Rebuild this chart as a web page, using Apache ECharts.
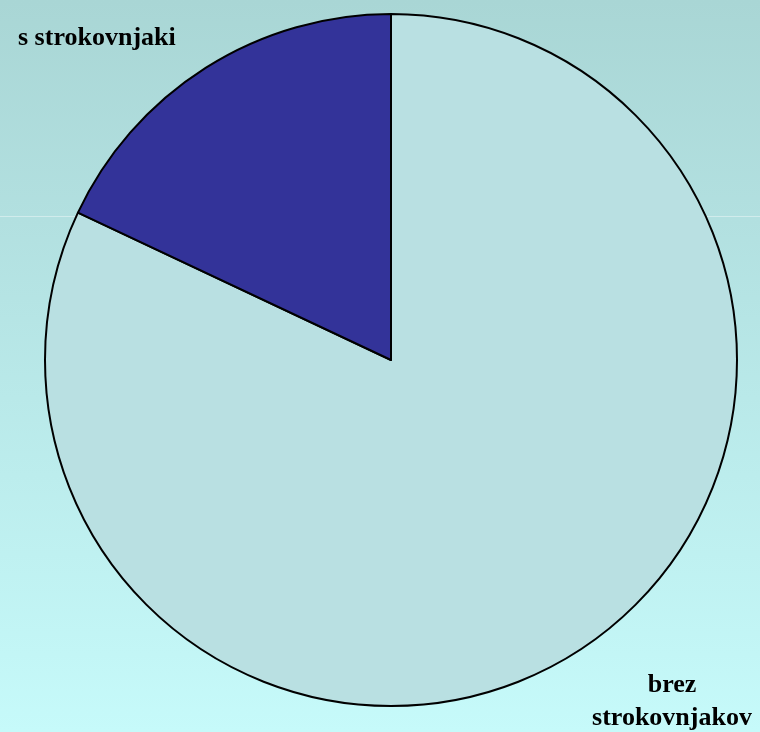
<!DOCTYPE html>
<html>
<head>
<meta charset="utf-8">
<script src="https://cdn.jsdelivr.net/npm/echarts@6/dist/echarts.min.js"></script>
<style>
  html, body { margin: 0; padding: 0; }
  #chart { width: 760px; height: 732px; }
</style>
</head>
<body>
<div id="chart"></div>
<script>
// Share of cases handled with and without specialists
const categories = ['brez\nstrokovnjakov', 's strokovnjaki'];
const values = [82, 18];
const sliceColors = ['#b9e0e2', '#333399'];

// Fixed label anchor points (px) for each slice
const labelSpots = [
  { x: 672, y: 702, align: 'center' },
  { x: 18, y: 38, align: 'left' }
];

const chart = echarts.init(document.getElementById('chart'), null, { renderer: 'canvas' });

chart.setOption({
  animation: false,
  backgroundColor: {
    type: 'linear', x: 0, y: 0, x2: 0, y2: 1,
    colorStops: [
      { offset: 0, color: '#a9d6d5' },
      { offset: 0.3, color: '#b2e0e0' },
      { offset: 1, color: '#c6fafa' }
    ]
  },
  graphic: [{
    type: 'line',
    shape: { x1: 0, y1: 216.5, x2: 760, y2: 216.5 },
    style: { stroke: 'rgba(255,255,255,0.4)', lineWidth: 1 },
    z: -1
  }],
  series: [{
    type: 'pie',
    center: [391, 360],
    radius: [0, 346],
    startAngle: 90,
    clockwise: true,
    data: categories.map((name, i) => ({
      name,
      value: values[i],
      itemStyle: { color: sliceColors[i] }
    })),
    itemStyle: { borderColor: '#000', borderWidth: 2 },
    emphasis: { disabled: true },
    label: {
      show: true,
      position: 'outside',
      formatter: '{b}',
      fontFamily: '"Liberation Serif", "Times New Roman", serif',
      fontWeight: 'bold',
      fontSize: 26,
      lineHeight: 33,
      color: '#000',
      overflow: 'none',
      width: 300
    },
    labelLine: { show: false },
    labelLayout: function (params) {
      const s = labelSpots[params.dataIndex];
      return { x: s.x, y: s.y, align: s.align, verticalAlign: 'middle', hideOverlap: false, moveOverlap: null };
    }
  }]
});
</script>
</body>
</html>
